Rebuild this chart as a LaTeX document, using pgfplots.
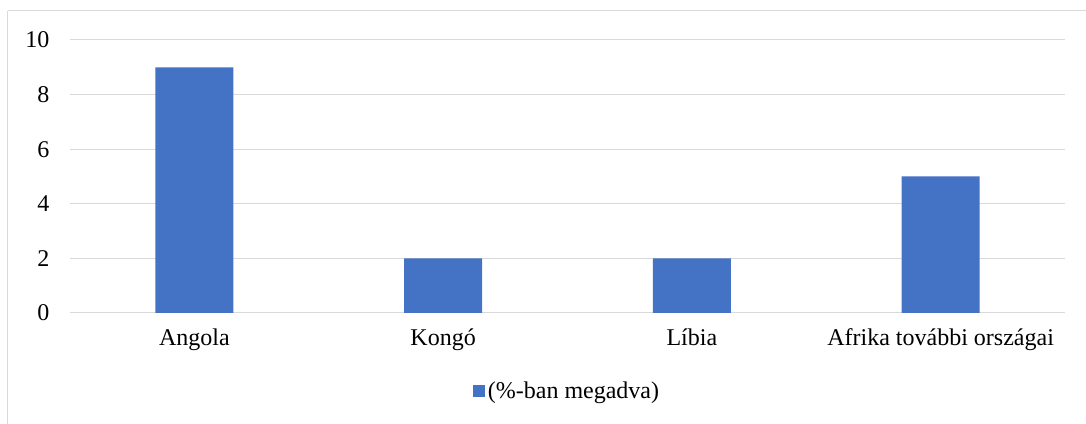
\documentclass[border=0pt]{standalone}
\usepackage{pgfplots}
\pgfplotsset{compat=1.18}
\usepackage{fontspec}
\setmainfont{Liberation Serif}
\definecolor{barblue}{RGB}{68,114,196}
\definecolor{gridgray}{RGB}{217,217,217}

\begin{document}
\begin{tikzpicture}[x=0.75pt,y=0.75pt]
% page = 1086 x 424 px, axis south west corner at px (70,313)
\useasboundingbox (-70,-111) rectangle (1016,313);
\draw[gridgray, line width=0.75pt] (-62,302) -- (1030,302) (-62,302) -- (-62,-130);
\begin{axis}[
    at={(0,0)}, anchor=south west,
    scale only axis,
    width=746.25pt, height=204.75pt,
    ybar, bar width=58.5pt,
    xmin=-0.5, xmax=3.5,
    ymin=0, ymax=10,
    ytick={0,2,...,10},
    xtick=data,
    xticklabels={Angola, Kongó, Líbia, Afrika további országai},
    axis x line*=bottom,
    axis y line*=left,
    x axis line style={gridgray, line width=0.75pt, -},
    y axis line style={draw=none},
    ymajorgrids, grid style={gridgray, line width=0.75pt},
    major tick length=0pt,
    tick label style={font=\fontsize{18}{21}\selectfont},
    yticklabel style={anchor=east, xshift=-12pt},
    xticklabel style={yshift=-8pt},
    /pgf/number format/assume math mode=true,
    legend style={draw=none, at={(0.5,-0.285)}, anchor=center,
        font=\fontsize{18}{21}\selectfont, legend columns=1},
    legend image code/.code={\fill[barblue] (0pt,-4.5pt) rectangle (9pt,4.5pt);},
]
\addplot[fill=barblue, draw=none] coordinates {(0,9) (1,2) (2,2) (3,5)};
\addlegendentry{(\%-ban megadva)}
\end{axis}
\end{tikzpicture}
\end{document}
